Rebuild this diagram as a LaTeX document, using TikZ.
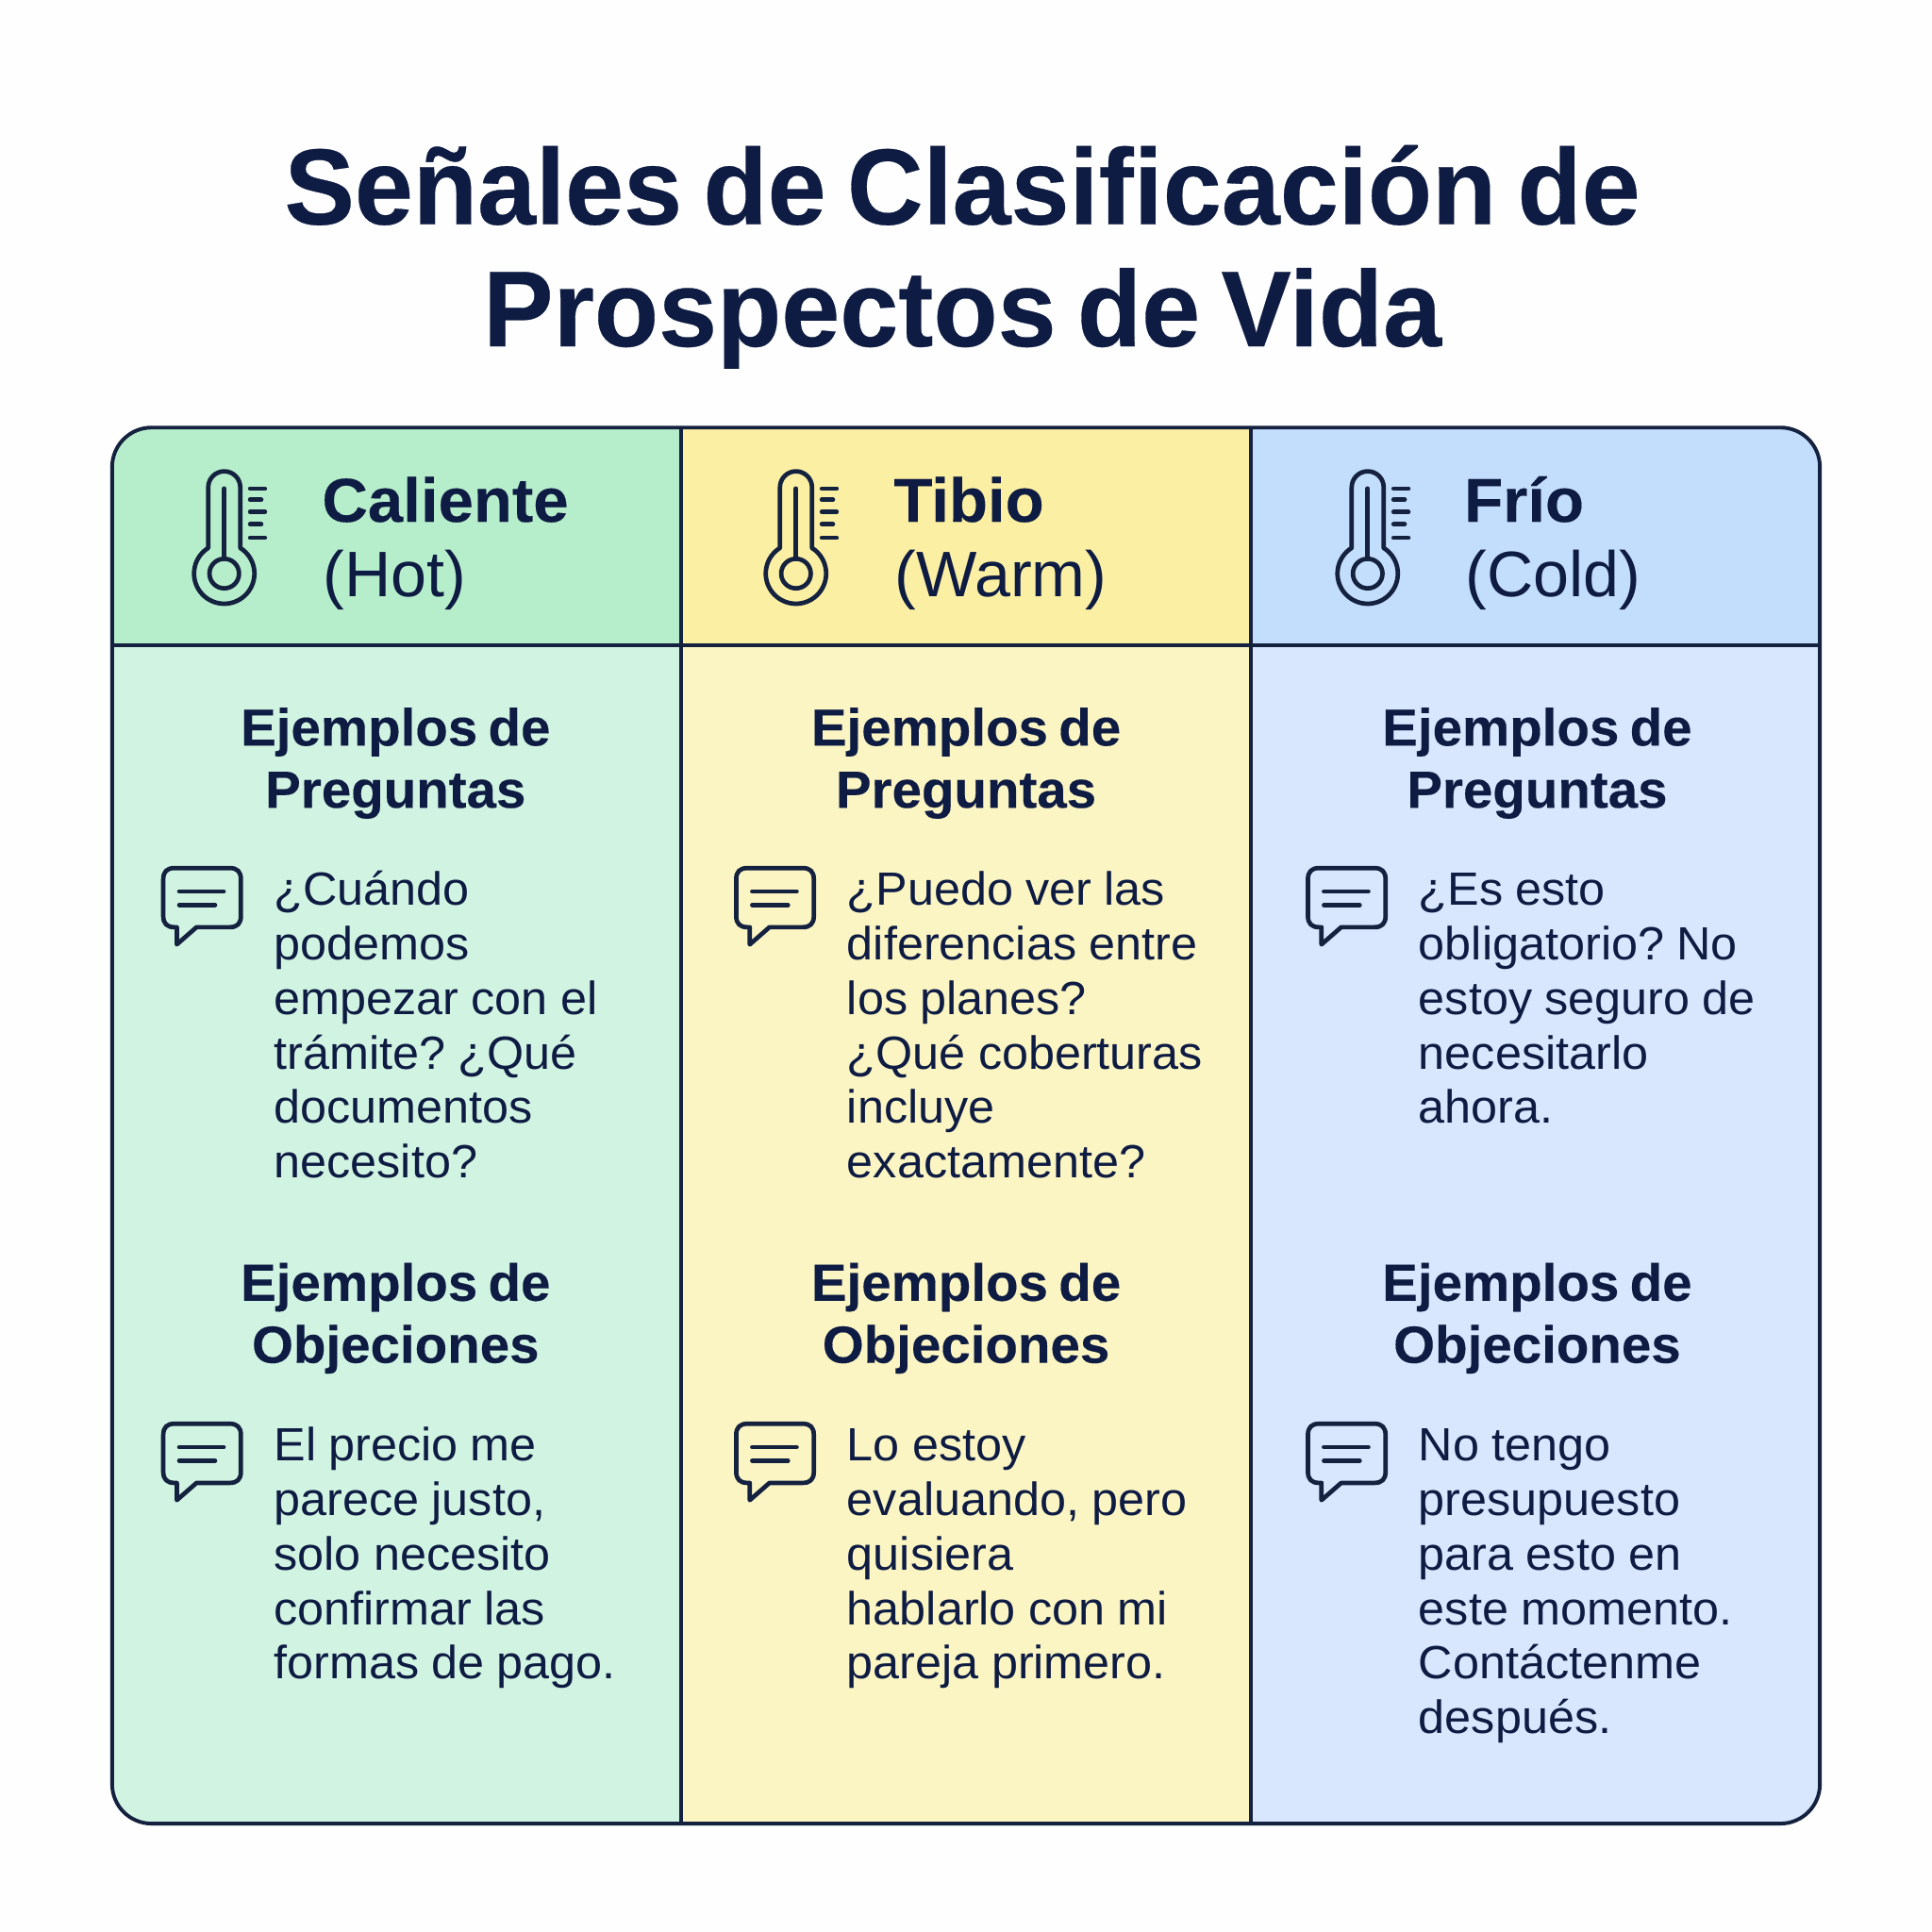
\documentclass[tikz,border=0pt]{standalone}
\usepackage{fontspec}
\setmainfont{Liberation Sans}
\newfontfamily\titlefam[WordSpace=0.72,FakeStretch=0.975,BoldFeatures={FakeBold=0.25}]{Liberation Sans}
\newfontfamily\secfam[WordSpace=0.72,FakeStretch=1.02,BoldFeatures={FakeBold=0.2}]{Liberation Sans}
\newfontfamily\bodyfam[FakeStretch=1.02,WordSpace=0.95]{Liberation Sans}
\definecolor{ink}{HTML}{0E1B42}
\definecolor{rule}{HTML}{14213F}
\definecolor{paper}{HTML}{FDFEFD}
\definecolor{ghead}{HTML}{B6EDCB}
\definecolor{gbody}{HTML}{D1F4E2}
\definecolor{yhead}{HTML}{FBEFA3}
\definecolor{ybody}{HTML}{FBF5C4}
\definecolor{bhead}{HTML}{C3DDFC}
\definecolor{bbody}{HTML}{D8E7FD}
\tikzset{
  x=0.5pt,y=-0.5pt,
  titletext/.style={anchor=base,inner sep=0,text=ink,font=\titlefam\fontsize{43.8}{49}\selectfont\bfseries\frenchspacing},
  headbold/.style={anchor=base west,inner sep=0,text=ink,font=\secfam\fontsize{25.2}{30}\selectfont\bfseries},
  headreg/.style={anchor=base west,inner sep=0,text=ink,font=\fontsize{26.1}{30}\selectfont},
  sectext/.style={anchor=north,inner sep=0,align=center,text=ink,font=\secfam\fontsize{21.2}{25.2}\selectfont\bfseries},
  bodytext/.style={anchor=north west,inner sep=0,align=left,text=ink,font=\bodyfam\fontsize{18.9}{22.1}\selectfont\frenchspacing},
  iconline/.style={draw=rule,line width=1.8pt,line cap=round,line join=round},
  gridline/.style={draw=rule,line width=1.5pt},
}
\newcommand{\firstsec}{\rule{0pt}{16pt}}
\newcommand{\thermo}[2]{%
  \begin{scope}[shift={(#1,#2)}]
    \draw[iconline] (-13,-20.8) arc[start angle=122,end angle=418,radius=12.25pt]
       -- (13,-70) arc[start angle=0,end angle=180,radius=6.5pt] -- cycle;
    \draw[iconline] (0,0) circle[radius=6pt];
    \draw[iconline] (0,-69) -- (0,-12);
    \foreach \yy/\xx in {-69/33,-60/30,-50/33,-40/30,-29/33}{\draw[iconline] (21,\yy) -- (\xx,\yy);}
  \end{scope}}
\newcommand{\chat}[2]{%
  \begin{scope}[shift={(#1,#2)}]
    \draw[iconline] (11,48) -- (11,62) -- (27,48) -- (54,48)
      .. controls (60,48) and (63,45) .. (63,39) -- (63,9)
      .. controls (63,3) and (60,0) .. (54,0) -- (9,0)
      .. controls (3,0) and (0,3) .. (0,9) -- (0,39)
      .. controls (0,45) and (3,48) .. (9,48) -- cycle;
    \draw[iconline] (13,19) -- (49,19);
    \draw[iconline] (13,30) -- (42,30);
  \end{scope}}
\begin{document}
\begin{tikzpicture}
\useasboundingbox (0,0) rectangle (1568,1568);
\fill[paper] (0,0) rectangle (1568,1568);
\begin{scope}
  \clip[rounded corners=16pt] (91,347) rectangle (1477,1480);
  \fill[ghead] (91,347) rectangle (552.5,524);
  \fill[yhead] (552.5,347) rectangle (1015.5,524);
  \fill[bhead] (1015.5,347) rectangle (1477,524);
  \fill[gbody] (91,524) rectangle (552.5,1480);
  \fill[ybody] (552.5,524) rectangle (1015.5,1480);
  \fill[bbody] (1015.5,524) rectangle (1477,1480);
\end{scope}
\draw[gridline,rounded corners=16pt] (91,347) rectangle (1477,1480);
\draw[gridline] (91,524) -- (1477,524);
\draw[gridline] (552.5,347) -- (552.5,1480);
\draw[gridline] (1015.5,347) -- (1015.5,1480);

\node[titletext] (title1) at (781,182) {Señales de Clasificación de};
\node[titletext] (title2) at (781,281) {Prospectos de Vida};

\thermo{182}{465.5}\thermo{646}{465.5}\thermo{1110}{465.5}
\node[headbold] (hot) at (261,423.5) {Caliente};
\node[headreg] (hotb) at (262,484) {(Hot)};
\node[headbold] (warm) at (725,423.5) {Tibio};
\node[headreg] (warmb) at (726,484) {(Warm)};
\node[headbold] (cold) at (1188,423.5) {Frío};
\node[headreg] (coldb) at (1189,484) {(Cold)};

\node[sectext] (q1) at (321,574) {Ejemplos de\\Preguntas};
\node[sectext] (q2) at (784,574) {Ejemplos de\\Preguntas};
\node[sectext] (q3) at (1247.5,574) {Ejemplos de\\Preguntas};
\node[sectext] (o1) at (321,1024.5) {Ejemplos de\\Objeciones};
\node[sectext] (o2) at (784,1024.5) {Ejemplos de\\Objeciones};
\node[sectext] (o3) at (1247.5,1024.5) {Ejemplos de\\Objeciones};

\chat{132.5}{704.5}\chat{597.5}{704.5}\chat{1061.5}{704.5}
\chat{132.5}{1155.5}\chat{597.5}{1155.5}\chat{1061.5}{1155.5}

\node[bodytext] (qa1) at (222,702.5) {\firstsec¿Cuándo\\podemos\\empezar con el\\trámite? ¿Qué\\documentos\\necesito?};
\node[bodytext] (qa2) at (687,702.5) {\firstsec¿Puedo ver las\\diferencias entre\\los planes?\\¿Qué coberturas\\incluye\\exactamente?};
\node[bodytext] (qa3) at (1151,702.5) {\firstsec¿Es esto\\obligatorio? No\\estoy seguro de\\necesitarlo\\ahora.};
\node[bodytext] (oa1) at (222,1153.5) {\firstsec El precio me\\parece justo,\\solo necesito\\confirmar las\\formas de pago.};
\node[bodytext] (oa2) at (687,1153.5) {\firstsec Lo estoy\\evaluando, pero\\quisiera\\hablarlo con mi\\pareja primero.};
\node[bodytext] (oa3) at (1151,1153.5) {\firstsec No tengo\\presupuesto\\para esto en\\este momento.\\Contáctenme\\después.};
\end{tikzpicture}
\end{document}
